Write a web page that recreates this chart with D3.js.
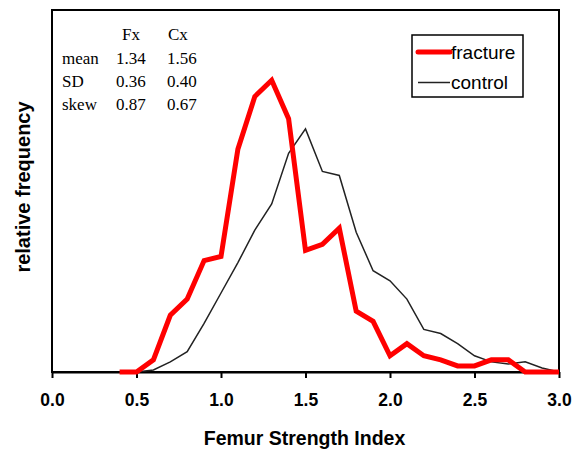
<!DOCTYPE html>
<html>
<head>
<meta charset="utf-8">
<script src="https://cdn.jsdelivr.net/npm/d3@7"></script>
<style>
  html, body { margin: 0; padding: 0; background: #fff; }
  svg { display: block; }
</style>
</head>
<body>
<svg id="chart" width="575" height="449"></svg>
<script>
// ---- data ----
const fractureX = [0.4,0.5,0.6,0.7,0.8,0.9,1.0,1.1,1.2,1.3,1.4,1.5,1.6,1.7,1.8,1.9,2.0,2.1,2.2,2.3,2.4,2.5,2.6,2.7,2.8,2.9,3.0];
const fractureY = [0,0,0.6,2.8,3.6,5.5,5.7,11.0,13.6,14.4,12.5,6.0,6.3,7.1,3.0,2.5,0.8,1.4,0.8,0.6,0.3,0.3,0.6,0.6,0,0,0];
const controlX = [0.5,0.6,0.7,0.8,0.9,1.0,1.1,1.2,1.3,1.4,1.5,1.6,1.7,1.8,1.9,2.0,2.1,2.2,2.3,2.4,2.5,2.6,2.7,2.8,2.9,3.0];
const controlY = [0,0.1,0.5,1.0,2.4,3.9,5.4,7.0,8.3,10.8,12.0,9.9,9.7,6.9,5.0,4.5,3.6,2.1,1.9,1.4,0.8,0.5,0.4,0.5,0.2,0];
const xTicks = [0.0,0.5,1.0,1.5,2.0,2.5,3.0];
const xTickLabels = ["0.0","0.5","1.0","1.5","2.0","2.5","3.0"];
const statCols = ["Fx","Cx"];
const statRows = ["mean","SD","skew"];
const statFx = ["1.34","0.36","0.87"];
const statCx = ["1.56","0.40","0.67"];
const seriesNames = ["fracture","control"];
const yMax = 17.87;

// ---- layout ----
const svg = d3.select("#chart");
const L = 52, R = 559, T = 10, B = 372;
const x = d3.scaleLinear().domain([0,3]).range([L,R]);
const y = d3.scaleLinear().domain([0,yMax]).range([B,T]);

// frame
svg.append("rect").attr("x",L).attr("y",T).attr("width",R-L).attr("height",B-T)
  .attr("fill","none").attr("stroke","#000").attr("stroke-width",2);

// x axis
const xAxis = d3.axisBottom(x).tickValues(xTicks)
  .tickFormat((d,i)=>xTickLabels[i]).tickSizeInner(6).tickSizeOuter(0).tickPadding(16);
const gx = svg.append("g").attr("transform",`translate(0,${B})`).call(xAxis);
gx.select(".domain").attr("stroke","#000").attr("stroke-width",2);
gx.selectAll(".tick line").attr("stroke","#000").attr("stroke-width",2);
gx.selectAll(".tick text").attr("fill","#000")
  .style("font-family","'Liberation Sans', Arial, sans-serif")
  .style("font-weight","bold").style("font-size","17.5px");

// axis titles
svg.append("text").attr("x",(L+R)/2 - 1).attr("y",445).attr("text-anchor","middle")
  .style("font-family","'Liberation Sans', Arial, sans-serif").style("font-weight","bold")
  .style("font-size","19.5px").text("Femur Strength Index");
svg.append("text").attr("transform","translate(30,187) rotate(-90)").attr("text-anchor","middle")
  .style("font-family","'Liberation Sans', Arial, sans-serif").style("font-weight","bold")
  .style("font-size","20px").text("relative frequency");

// lines
const line = d3.line().x(d=>x(d[0])).y(d=>y(d[1]));
svg.append("path").datum(controlX.map((v,i)=>[v,controlY[i]]))
  .attr("d",line).attr("fill","none").attr("stroke","#222").attr("stroke-width",1.5);
svg.append("path").datum(fractureX.map((v,i)=>[v,fractureY[i]]))
  .attr("d",line).attr("fill","none").attr("stroke","#ff0000").attr("stroke-width",5)
  .attr("stroke-linejoin","miter");

// stats table
const serif = "'Liberation Serif', 'Times New Roman', serif";
const tbl = svg.append("g").style("font-family",serif).style("font-size","17px").attr("fill","#000");
const colX = [122, 168];
statCols.forEach((c,i)=>tbl.append("text").attr("x",colX[i]).attr("y",40).text(c));
statRows.forEach((r,i)=>{
  const yy = 64 + i*23;
  tbl.append("text").attr("x",62).attr("y",yy).text(r);
  tbl.append("text").attr("x",116).attr("y",yy).text(statFx[i]);
  tbl.append("text").attr("x",167).attr("y",yy).text(statCx[i]);
});

// legend
const lg = svg.append("g");
lg.append("rect").attr("x",412).attr("y",35).attr("width",111).attr("height",62)
  .attr("fill","#fff").attr("stroke","#000").attr("stroke-width",1.5);
const legendStyles = [{c:"#ff0000",w:5},{c:"#222",w:1.5}];
seriesNames.forEach((n,i)=>{
  const yy = 52 + i*30.5;
  lg.append("line").attr("x1",418).attr("x2",450).attr("y1",yy).attr("y2",yy)
    .attr("stroke",legendStyles[i].c).attr("stroke-width",legendStyles[i].w)
    .attr("stroke-linecap", i===0 ? "round" : "butt");
  lg.append("text").attr("x",451).attr("y",yy+6.5)
    .style("font-family","'Liberation Sans', Arial, sans-serif").style("font-size","19px")
    .text(n);
});
</script>
</body>
</html>
